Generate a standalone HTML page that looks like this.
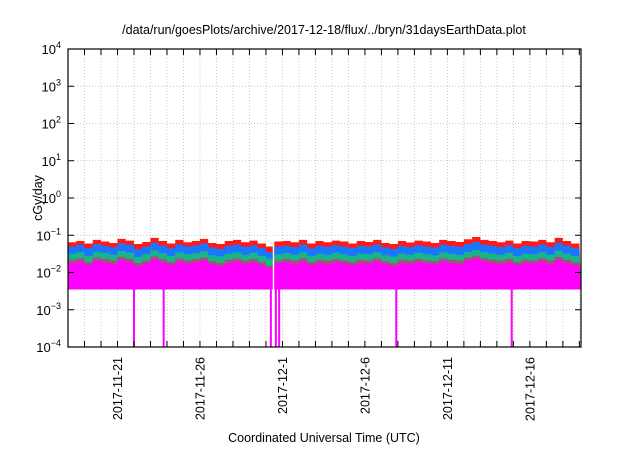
<!DOCTYPE html>
<html><head><meta charset="utf-8"><style>
body{margin:0;background:#fff}
svg text{font-family:"Liberation Sans",sans-serif;fill:#000}
</style></head><body>
<svg id="c" width="640" height="448" viewBox="0 0 640 448" xmlns="http://www.w3.org/2000/svg">
<text x="324" y="34" font-size="12.5" text-anchor="middle">/data/run/goesPlots/archive/2017-12-18/flux/../bryn/31daysEarthData.plot</text>
<text transform="translate(42,198) rotate(-90)" font-size="12.5" text-anchor="middle">cGy/day</text>
<text x="324" y="442" font-size="12.5" text-anchor="middle">Coordinated Universal Time (UTC)</text>
<g id="grid"></g><g id="series"></g><g id="axes"></g>
</svg>
<script>
const redTop=[0.065,0.07,0.06,0.075,0.068,0.062,0.08,0.072,0.058,0.066,0.085,0.07,0.06,0.075,0.065,0.07,0.08,0.062,0.058,0.07,0.075,0.065,0.072,0.06,0.05,0.068,0.07,0.065,0.075,0.06,0.07,0.065,0.072,0.068,0.06,0.07,0.066,0.075,0.062,0.058,0.07,0.064,0.072,0.068,0.062,0.075,0.07,0.066,0.078,0.09,0.075,0.07,0.065,0.072,0.06,0.07,0.068,0.075,0.065,0.085,0.07,0.06];
const blueTop=[0.05,0.055,0.045,0.058,0.052,0.047,0.06,0.055,0.042,0.05,0.062,0.053,0.045,0.056,0.05,0.053,0.06,0.047,0.043,0.052,0.056,0.049,0.054,0.045,0.035,0.05,0.052,0.048,0.056,0.045,0.052,0.049,0.054,0.05,0.045,0.052,0.05,0.056,0.047,0.043,0.052,0.048,0.054,0.05,0.046,0.056,0.052,0.049,0.058,0.066,0.056,0.052,0.048,0.054,0.045,0.052,0.05,0.056,0.048,0.062,0.052,0.045];
const tealTop=[0.032,0.035,0.028,0.036,0.033,0.03,0.038,0.034,0.026,0.031,0.039,0.033,0.028,0.035,0.031,0.033,0.037,0.029,0.027,0.032,0.035,0.03,0.034,0.028,0.024,0.031,0.033,0.03,0.035,0.028,0.032,0.03,0.034,0.031,0.028,0.032,0.031,0.035,0.029,0.027,0.032,0.03,0.034,0.031,0.029,0.035,0.032,0.03,0.036,0.04,0.035,0.032,0.03,0.034,0.028,0.032,0.031,0.035,0.03,0.038,0.032,0.028];
const brownTop=[0.022,0.024,0.019,0.025,0.023,0.021,0.026,0.023,0.018,0.021,0.027,0.023,0.019,0.024,0.021,0.023,0.025,0.02,0.018,0.022,0.024,0.021,0.023,0.019,0.015,0.021,0.023,0.021,0.024,0.019,0.022,0.021,0.023,0.021,0.019,0.022,0.021,0.024,0.02,0.018,0.022,0.021,0.023,0.021,0.02,0.024,0.022,0.021,0.025,0.028,0.024,0.022,0.021,0.023,0.019,0.022,0.021,0.024,0.021,0.026,0.022,0.019];
const magTop=[0.018,0.02,0.016,0.021,0.019,0.017,0.022,0.019,0.015,0.018,0.023,0.019,0.016,0.02,0.018,0.019,0.021,0.017,0.015,0.018,0.02,0.017,0.019,0.016,0.013,0.018,0.019,0.017,0.02,0.016,0.018,0.017,0.019,0.018,0.016,0.018,0.018,0.02,0.017,0.015,0.018,0.017,0.019,0.018,0.017,0.02,0.018,0.017,0.021,0.024,0.02,0.018,0.017,0.019,0.016,0.018,0.018,0.02,0.017,0.022,0.018,0.016];
const magBottom=0.0035;
const dropoutDays=[4.0,5.8,12.3,12.6,12.8,19.9,26.9];
const gapDay=12.45;
const yTicks=[-4,-3,-2,-1,0,1,2,3,4];
const xLabels=["2017-11-21","2017-11-26","2017-12-1","2017-12-6","2017-12-11","2017-12-16"];
const xLabelDays=[3,8,13,18,23,28];
const totalDays=31.1, binDays=0.5;

const L=68,R=581,T=49,B=347,NS="http://www.w3.org/2000/svg";
const xs=d=>L+(d/totalDays)*(R-L);
const ys=v=>B-(Math.log10(v)+4)/8*(B-T);
function mk(t,a,p){const e=document.createElementNS(NS,t);for(const k in a)e.setAttribute(k,a[k]);p.appendChild(e);return e;}
const grid=document.getElementById('grid'),ser=document.getElementById('series'),ax=document.getElementById('axes');
for(let d=1;d<totalDays;d++){const g=mk('line',{x1:xs(d),x2:xs(d),y1:T,y2:B,stroke:'#bbb','stroke-dasharray':'1,2','stroke-width':0.8},grid);}
yTicks.forEach(e=>{const y=ys(Math.pow(10,e));const g=mk('line',{x1:L,x2:R,y1:y,y2:y,stroke:'#bbb','stroke-dasharray':'1,2','stroke-width':0.8},grid);
 const t=mk('text',{x:L-7,y:y+5,'font-size':13,'text-anchor':'end'},ax);
 t.textContent='10';const s=mk('tspan',{dy:-6,'font-size':9},t);s.textContent=String(e).replace('-','\u2212');
 mk('line',{x1:L,x2:L+6,y1:y,y2:y,stroke:'#000'},ax);mk('line',{x1:R,x2:R-6,y1:y,y2:y,stroke:'#000'},ax);});
function area(arr,bot,color,name){let d='M'+xs(0)+','+ys(bot);arr.forEach((v,i)=>{d+='L'+xs(i*binDays)+','+ys(v)+'L'+xs(Math.min((i+1)*binDays,totalDays))+','+ys(v);});d+='L'+xs(totalDays)+','+ys(bot)+'Z';
 const p=mk('path',{d:d,fill:color},ser);}
area(redTop,0.004,'#ff1a1a','series-red');
area(blueTop,0.004,'#1a75ff','series-blue');
area(tealTop,0.004,'#19b38c','series-teal');
area(brownTop,0.004,'#9a5a6a','series-brown');
area(magTop,magBottom,'#ff00ff','series-magenta');
dropoutDays.forEach(d=>{const r=mk('rect',{x:xs(d)-1,y:ys(0.004),width:2,height:ys(1e-4)-ys(0.004),fill:'#ff00ff'},ser);});
{const r=mk('rect',{x:xs(gapDay)-0.6,y:ys(0.1),width:1.4,height:ys(1e-4)-ys(0.1),fill:'#fff'},ser);}
for(let d=1;d<totalDays;d++){mk('line',{x1:xs(d),x2:xs(d),y1:B,y2:B-6,stroke:'#000'},ax);mk('line',{x1:xs(d),x2:xs(d),y1:T,y2:T+6,stroke:'#000'},ax);}
xLabels.forEach((s,i)=>{const x=xs(xLabelDays[i]);const t=mk('text',{transform:`translate(${x+4.5},357) rotate(-90)`,'font-size':12.5,'text-anchor':'end'},ax);t.textContent=s;});
const f=mk('rect',{x:L,y:T,width:R-L,height:B-T,fill:'none',stroke:'#000','stroke-width':1.2},ax);
</script>
</body></html>
